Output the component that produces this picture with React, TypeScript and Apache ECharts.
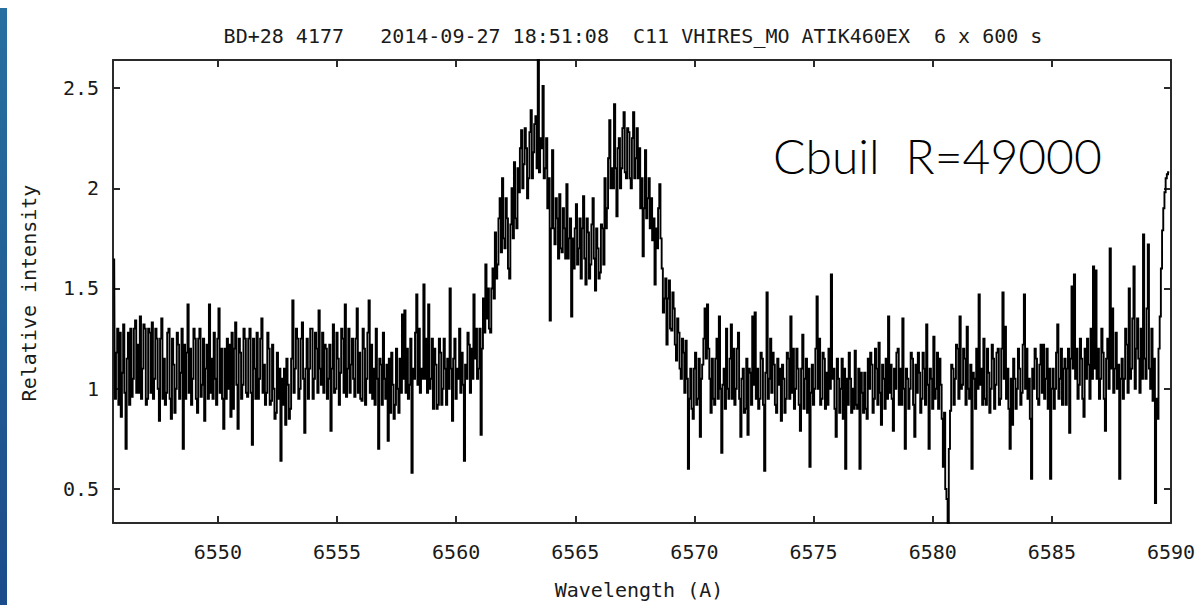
import React, { useEffect, useRef } from "react";
import * as echarts from "echarts";

// Spectrum sampling grid (Angstrom)
const LAMBDA_START = 6545.65;
const LAMBDA_STEP = 0.05;

// Relative intensity, one value per sample, 1 Å per row
const flux: number[] = [
  1.65, 0.95, 1.18, 1.30, 0.92, 1.28, 0.86, 1.08, 1.32, 0.98, 0.70, 1.15, 1.28, 0.92, 1.30, 0.96, 1.05, 1.30, 1.34, 0.98,
  1.22, 0.98, 1.36, 0.95, 1.10, 1.32, 1.30, 0.92, 0.95, 1.30, 1.28, 0.98, 1.33, 0.95, 1.05, 1.30, 1.25, 1.00, 0.84, 1.25,
  1.35, 0.95, 1.15, 0.92, 0.98, 1.28, 1.30, 0.95, 0.85, 1.25, 1.12, 0.88, 1.00, 1.28, 1.22, 0.95, 1.08, 1.30, 0.70, 1.22,
  0.95, 1.18, 1.42, 0.98, 1.20, 0.92, 1.05, 1.30, 1.25, 0.95, 0.88, 1.25, 1.30, 0.96, 1.02, 1.25, 0.84, 1.10, 1.22, 0.95,
  1.42, 0.98, 1.15, 0.95, 1.28, 1.05, 0.92, 1.25, 1.40, 0.98, 1.20, 0.95, 0.80, 1.20, 0.95, 1.25, 1.00, 1.22, 0.86, 1.28,
  0.90, 1.20, 1.33, 1.02, 0.80, 1.25, 1.18, 0.95, 1.02, 1.30, 1.25, 0.98, 0.96, 1.25, 1.30, 0.98, 0.72, 1.25, 1.10, 0.95,
  1.28, 0.95, 1.05, 1.25, 1.35, 0.98, 1.12, 0.92, 0.98, 1.28, 1.20, 0.92, 0.94, 1.22, 1.00, 0.85, 0.88, 1.18, 0.95, 1.10,
  0.64, 1.05, 0.92, 1.10, 0.82, 1.15, 1.02, 0.85, 0.90, 1.15, 1.44, 0.98, 1.10, 1.30, 1.25, 0.95, 1.00, 1.25, 1.33, 1.05,
  0.78, 1.10, 1.25, 0.95, 1.10, 1.30, 1.30, 0.95, 1.05, 1.28, 1.20, 0.98, 1.39, 1.10, 1.02, 1.28, 0.98, 1.22, 1.20, 0.95,
  1.05, 1.22, 0.79, 1.10, 1.32, 0.98, 1.00, 1.28, 1.15, 0.92, 1.08, 1.30, 1.25, 0.98, 1.42, 0.96, 1.10, 1.30, 0.98, 1.12,
  1.25, 1.05, 0.96, 1.25, 1.40, 0.98, 1.18, 0.95, 0.94, 1.30, 1.20, 0.92, 1.05, 1.28, 1.44, 0.98, 1.22, 0.95, 1.10, 0.92,
  1.30, 1.05, 0.70, 1.15, 1.12, 0.92, 1.28, 1.05, 0.95, 1.12, 0.74, 1.15, 0.88, 1.18, 1.02, 0.85, 0.92, 1.20, 1.00, 0.88,
  1.15, 0.98, 1.37, 1.05, 1.39, 0.98, 1.20, 0.95, 1.02, 1.25, 0.58, 1.10, 1.05, 1.28, 1.47, 1.02, 1.30, 0.98, 1.10, 1.05,
  1.52, 1.05, 1.25, 0.98, 1.42, 1.00, 1.05, 1.25, 0.90, 1.20, 1.12, 0.90, 0.92, 1.25, 1.18, 0.92, 1.00, 1.25, 1.10, 0.92,
  1.15, 1.00, 1.50, 1.10, 0.84, 1.15, 1.25, 0.95, 1.10, 1.05, 1.30, 0.98, 1.18, 1.02, 0.64, 1.12, 1.05, 1.28, 1.22, 0.98,
  1.20, 1.05, 1.47, 1.15, 1.30, 1.05, 1.10, 1.30, 0.77, 1.20, 1.45, 1.28, 1.62, 1.35, 1.50, 1.30, 1.28, 1.50, 1.60, 1.45,
  1.78, 1.55, 1.62, 1.85, 1.95, 1.68, 2.05, 1.75, 1.70, 1.95, 1.85, 1.60, 1.55, 1.82, 2.00, 1.75, 2.13, 1.85, 1.80, 2.10,
  1.98, 2.20, 2.29, 2.00, 2.12, 2.30, 2.20, 1.95, 2.05, 2.28, 2.39, 2.05, 2.18, 2.32, 2.36, 2.10, 2.64, 2.08, 2.25, 2.20,
  2.51, 2.05, 2.10, 2.25, 1.90, 2.05, 1.34, 1.80, 2.19, 1.80, 1.72, 1.95, 1.85, 1.65, 1.97, 1.70, 1.68, 1.90, 1.80, 1.65,
  2.02, 1.65, 1.75, 1.85, 1.36, 1.75, 1.60, 1.80, 1.92, 1.62, 1.70, 1.85, 1.55, 1.80, 1.96, 1.65, 1.52, 1.85, 1.78, 1.55,
  1.62, 1.82, 1.95, 1.65, 1.49, 1.80, 1.70, 1.55, 1.58, 1.82, 1.80, 1.62, 2.05, 1.80, 1.90, 2.15, 2.34, 2.00, 2.10, 2.00,
  2.42, 2.10, 1.86, 2.20, 2.25, 2.00, 2.10, 2.30, 2.38, 2.08, 2.05, 2.30, 2.28, 2.05, 2.00, 2.25, 2.38, 2.05, 2.15, 2.30,
  2.05, 2.20, 1.90, 2.05, 1.66, 1.90, 2.19, 1.85, 1.95, 2.05, 1.80, 1.95, 1.74, 1.85, 1.52, 1.80, 1.70, 1.90, 2.02, 1.75,
  1.60, 1.38, 1.45, 1.55, 1.22, 1.45, 1.54, 1.30, 1.29, 1.48, 1.40, 1.22, 1.14, 1.35, 1.28, 1.10, 1.05, 1.25, 1.18, 0.98,
  1.24, 1.05, 0.60, 0.95, 1.10, 0.90, 0.85, 1.10, 1.18, 0.92, 0.95, 1.15, 0.76, 1.05, 1.12, 1.25, 1.40, 1.15, 1.42, 1.20,
  1.05, 0.88, 1.15, 0.95, 0.92, 1.15, 1.25, 0.95, 1.36, 1.00, 0.68, 1.02, 1.10, 0.90, 1.30, 1.00, 0.95, 1.15, 1.32, 0.95,
  1.20, 0.92, 1.00, 1.20, 1.28, 0.95, 0.76, 1.05, 1.10, 0.88, 0.90, 1.15, 0.77, 1.10, 1.08, 0.92, 1.36, 1.02, 1.38, 0.95,
  1.10, 0.90, 0.95, 1.18, 1.15, 0.92, 0.59, 1.08, 1.48, 0.95, 1.05, 1.25, 0.98, 1.18, 1.12, 0.92, 0.88, 1.15, 1.02, 1.10,
  0.84, 1.12, 1.05, 0.88, 0.95, 1.18, 1.15, 0.95, 1.36, 0.98, 1.20, 0.90, 1.00, 1.20, 1.10, 0.92, 0.79, 1.10, 1.27, 0.90,
  1.05, 1.15, 0.88, 1.10, 0.61, 0.98, 1.12, 0.92, 1.00, 1.20, 1.46, 1.00, 1.25, 0.92, 0.95, 1.18, 1.15, 0.90, 1.08, 0.92,
  1.20, 1.00, 1.57, 1.05, 1.10, 0.90, 0.76, 1.15, 1.05, 0.88, 1.00, 1.15, 0.85, 1.10, 0.60, 1.05, 0.92, 1.18, 1.05, 0.88,
  1.00, 0.90, 1.19, 0.92, 0.90, 1.10, 0.60, 1.08, 0.98, 0.88, 1.08, 0.90, 0.85, 1.15, 1.00, 1.18, 1.12, 0.88, 0.95, 1.20,
  1.10, 0.92, 1.23, 0.98, 0.82, 1.12, 1.05, 0.90, 1.15, 0.95, 1.36, 0.98, 1.12, 0.95, 0.79, 1.10, 1.00, 1.18, 1.20, 0.92,
  1.10, 0.92, 1.35, 1.00, 0.70, 1.10, 1.05, 0.90, 1.00, 1.18, 1.15, 0.92, 0.76, 1.12, 0.98, 1.18, 1.08, 0.88, 0.95, 1.18,
  1.10, 0.92, 1.32, 1.02, 0.70, 1.10, 1.05, 0.90, 1.26, 0.95, 1.00, 1.18, 0.90, 1.15, 1.02, 0.85, 0.61, 0.88, 0.50, 0.45,
  0.30, 0.70, 0.89, 1.12, 1.10, 0.92, 1.05, 1.22, 1.20, 0.95, 1.36, 1.00, 1.02, 1.20, 1.15, 0.92, 1.31, 1.00, 0.95, 1.12,
  0.60, 1.08, 1.05, 0.90, 1.20, 1.00, 1.47, 1.02, 1.10, 0.92, 1.25, 0.95, 0.92, 1.20, 1.08, 0.88, 1.00, 1.22, 1.15, 0.90,
  1.02, 1.18, 1.20, 0.92, 0.95, 1.20, 1.48, 1.05, 1.31, 0.95, 1.10, 0.90, 0.70, 1.05, 0.82, 1.15, 1.05, 0.90, 1.00, 1.20,
  1.10, 0.92, 0.98, 1.22, 1.47, 1.00, 1.20, 0.95, 1.05, 0.85, 0.55, 1.10, 1.00, 1.20, 1.15, 0.95, 0.92, 1.12, 1.22, 0.98,
  1.22, 0.95, 1.05, 1.20, 0.90, 1.10, 0.55, 1.00, 1.10, 0.90, 1.00, 1.18, 1.32, 0.95, 1.05, 1.20, 0.92, 1.10, 1.15, 0.92,
  1.10, 1.20, 0.78, 1.15, 1.51, 1.10, 1.57, 1.05, 1.20, 0.95, 1.02, 1.25, 1.15, 0.95, 0.86, 1.20, 1.05, 1.25, 1.12, 0.95,
  1.30, 1.05, 1.61, 1.10, 1.59, 1.05, 1.20, 0.95, 1.05, 1.30, 1.18, 0.95, 0.79, 1.15, 1.25, 1.00, 1.70, 1.10, 1.40, 0.98,
  1.10, 1.28, 1.00, 1.12, 0.55, 1.05, 1.15, 0.95, 1.05, 1.30, 1.22, 0.98, 1.50, 1.05, 1.10, 1.35, 1.61, 1.00, 1.20, 1.35,
  1.15, 0.98, 1.30, 1.05, 1.77, 1.15, 1.05, 1.40, 1.72, 1.10, 1.00, 1.30, 0.94, 1.15, 0.43, 0.95, 0.85, 1.20, 1.36, 1.60,
  1.79, 1.90, 1.98, 2.05, 2.07, 2.08, 2.08,
];

const xTicks = [6550, 6555, 6560, 6565, 6570, 6575, 6580, 6585, 6590];
const yTicks = [0.5, 1, 1.5, 2, 2.5];
const X_MIN = 6545.6;
const X_MAX = 6590;
const Y_MIN = 0.33;
const Y_MAX = 2.64;

const TITLE = "BD+28 4177   2014-09-27 18:51:08  C11 VHIRES_MO ATIK460EX  6 x 600 s";
const X_NAME = "Wavelength (A)";
const Y_NAME = "Relative intensity";
const NOTE = "Cbuil  R=49000";

export default function App() {
  const ref = useRef<HTMLDivElement>(null);

  useEffect(() => {
    if (!ref.current) return;
    const chart = echarts.init(ref.current, null, { renderer: "svg" });
    const mono = "'DejaVu Sans Mono', monospace";
    const frame = "#2a2a2a";
    const ink = "#1a1a1a";

    const points = flux.map((v, i) => [
      +(LAMBDA_START + i * LAMBDA_STEP).toFixed(2),
      v,
    ]);

    const axisLine = { show: true, onZero: false, lineStyle: { color: frame, width: 2 } };
    const tick = (vals: number[]) => ({
      show: true,
      inside: true,
      length: 7,
      customValues: vals,
      lineStyle: { color: frame, width: 2 },
    });

    chart.setOption({
      animation: false,
      backgroundColor: "#ffffff",
      grid: { left: 113, right: 29, top: 60, bottom: 82, containLabel: false },
      xAxis: [
        {
          type: "value",
          position: "bottom",
          min: X_MIN,
          max: X_MAX,
          splitLine: { show: false },
          axisLine,
          axisTick: tick(xTicks),
          axisLabel: {
            customValues: xTicks,
            margin: 19,
            color: ink,
            fontFamily: mono,
            fontSize: 20,
            formatter: (v: number) => String(Math.round(v)),
          },
        },
        {
          type: "value",
          position: "top",
          min: X_MIN,
          max: X_MAX,
          splitLine: { show: false },
          axisLine,
          axisTick: tick(xTicks),
          axisLabel: { show: false },
        },
      ],
      yAxis: [
        {
          type: "value",
          position: "left",
          min: Y_MIN,
          max: Y_MAX,
          splitLine: { show: false },
          axisLine,
          axisTick: tick(yTicks),
          axisLabel: {
            customValues: yTicks,
            margin: 14,
            color: ink,
            fontFamily: mono,
            fontSize: 20,
            formatter: (v: number) => String(v),
          },
        },
        {
          type: "value",
          position: "right",
          min: Y_MIN,
          max: Y_MAX,
          splitLine: { show: false },
          axisLine,
          axisTick: tick(yTicks),
          axisLabel: { show: false },
        },
      ],
      series: [
        {
          type: "line",
          xAxisIndex: 0,
          yAxisIndex: 0,
          data: points,
          step: "middle",
          showSymbol: false,
          symbol: "none",
          clip: true,
          lineStyle: { color: "#000000", width: 1.9, join: "miter", cap: "butt" },
        },
      ],
      graphic: [
        {
          type: "rect",
          shape: { x: 0, y: 8, width: 7, height: 597 },
          style: {
            fill: {
              type: "linear",
              x: 0,
              y: 0,
              x2: 0,
              y2: 1,
              colorStops: [
                { offset: 0, color: "#27709f" },
                { offset: 1, color: "#1b4c8b" },
              ],
            },
          },
        },
        {
          type: "text",
          x: 633,
          y: 36,
          style: {
            text: TITLE,
            fill: ink,
            font: `20px ${mono}`,
            textAlign: "center",
            textVerticalAlign: "middle",
          },
        },
        {
          type: "text",
          x: 639,
          y: 590,
          style: {
            text: X_NAME,
            fill: ink,
            font: `20px ${mono}`,
            textAlign: "center",
            textVerticalAlign: "middle",
          },
        },
        {
          type: "text",
          x: 29,
          y: 293,
          rotation: Math.PI / 2,
          style: {
            text: Y_NAME,
            fill: ink,
            font: `20px ${mono}`,
            textAlign: "center",
            textVerticalAlign: "middle",
          },
        },
        {
          type: "text",
          x: 773,
          y: 155,
          style: {
            text: NOTE,
            fill: "#000000",
            font: "300 48px Lato, 'Noto Sans', sans-serif",
            textAlign: "left",
            textVerticalAlign: "middle",
          },
        },
      ],
    });

    return () => chart.dispose();
  }, []);

  return (
    <div
      ref={ref}
      style={{ position: "fixed", left: 0, top: 0, width: 1200, height: 605, background: "#fff" }}
    />
  );
}
